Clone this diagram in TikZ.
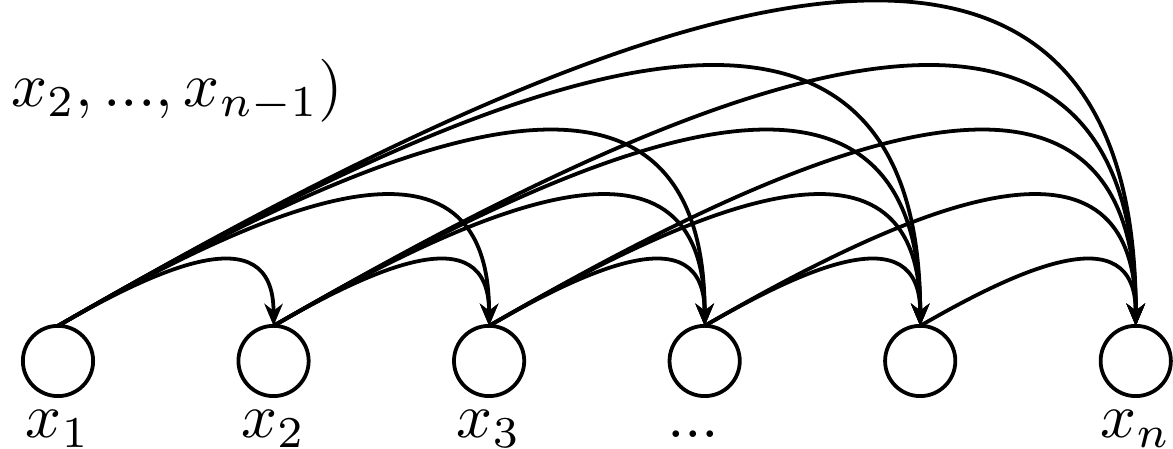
\documentclass[tikz,border=0pt]{standalone}
\usepackage{amsmath,amssymb}
\usepackage{tikz}
\usetikzlibrary{arrows.meta,positioning}

\begin{document}
\begin{tikzpicture}[
  x=0.1587pt, y=0.1587pt,
  node distance=23.06pt,
  var/.style={circle, draw, line width=0.6pt, minimum size=11.15pt, inner sep=0pt, outer sep=0pt},
  lab/.style={inner sep=0pt, text height=1ex, text depth=.25ex},
  hop/.style={out=30, in=90, looseness=1.33},
  arr/.style={-{Stealth[length=3.5pt,width=2.9pt,inset=1.1pt]}, line width=0.6pt}
]
  \useasboundingbox (0,0) rectangle (1173,449);

  \node[var] (X1) at (58,88) {};
  \node[var] (X2) [right=of X1] {};
  \node[var] (X3) [right=of X2] {};
  \node[var] (X4) [right=of X3] {};
  \node[var] (X5) [right=of X4] {};
  \node[var] (Xn) [right=of X5] {};

  \node (L1) [lab, below=2.1pt of X1] {$x_1$};
  \node (L2) [lab, below=2.1pt of X2] {$x_2$};
  \node (L3) [lab, below=2.1pt of X3] {$x_3$};
  \node (L4) [lab, below=2.1pt of X4, xshift=-1.8pt] {$...$};
  \node (Ln) [lab, below=2.1pt of Xn] {$x_n$};

  \node (ARGS) [anchor=base west, inner sep=0pt] at (10,342) {$x_2, ..., x_{n-1})$};

  \draw[arr] (X1.north) to[hop] (X2.north);
  \draw[arr] (X1.north) to[hop] (X3.north);
  \draw[arr] (X1.north) to[hop] (X4.north);
  \draw[arr] (X1.north) to[hop] (X5.north);
  \draw[arr] (X1.north) to[hop] (Xn.north);

  \draw[arr] (X2.north) to[hop] (X3.north);
  \draw[arr] (X2.north) to[hop] (X4.north);
  \draw[arr] (X2.north) to[hop] (X5.north);
  \draw[arr] (X2.north) to[hop] (Xn.north);

  \draw[arr] (X3.north) to[hop] (X4.north);
  \draw[arr] (X3.north) to[hop] (X5.north);
  \draw[arr] (X3.north) to[hop] (Xn.north);

  \draw[arr] (X4.north) to[hop] (X5.north);
  \draw[arr] (X4.north) to[hop] (Xn.north);

  \draw[arr] (X5.north) to[hop] (Xn.north);
\end{tikzpicture}
\end{document}
